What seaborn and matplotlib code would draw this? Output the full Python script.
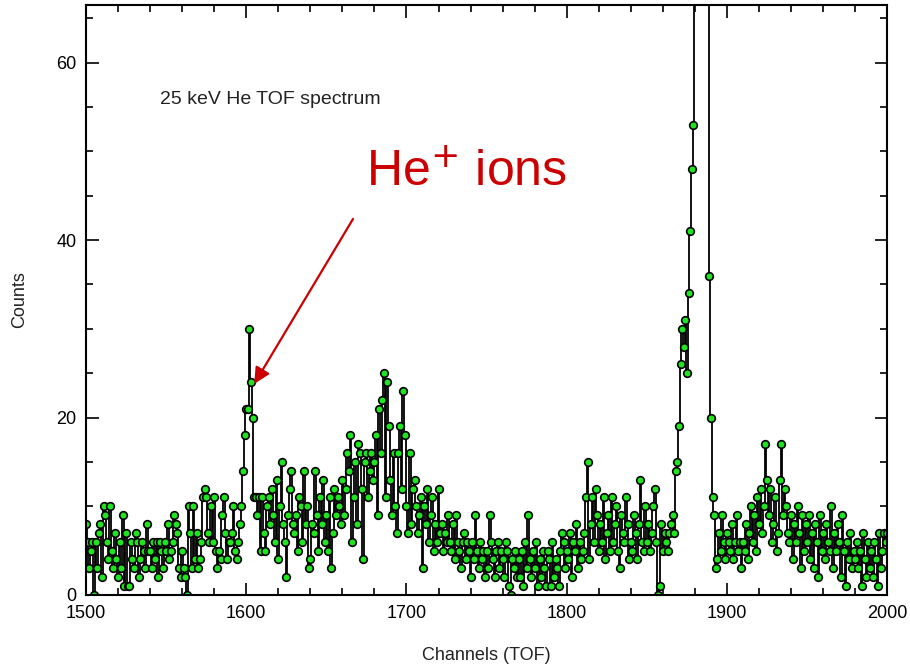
import numpy as np
import pandas as pd
import matplotlib
matplotlib.use("Agg")
import matplotlib.pyplot as plt
from matplotlib.ticker import MultipleLocator
import seaborn as sns

# TOF channel counts, channels 1500..2000 (one value per channel)
counts = [
    8, 6, 3, 5, 6, 0, 6, 3, 7, 8,
    2, 10, 9, 6, 4, 10, 5, 3, 7, 4,
    2, 6, 3, 9, 1, 7, 1, 1, 6, 4,
    3, 7, 6, 2, 4, 6, 5, 3, 8, 5,
    5, 3, 6, 4, 6, 2, 6, 5, 3, 6,
    5, 8, 4, 5, 6, 9, 8, 7, 3, 2,
    5, 3, 2, 0, 10, 7, 3, 10, 4, 7,
    3, 4, 6, 11, 12, 11, 7, 6, 10, 6,
    11, 5, 3, 5, 4, 9, 11, 7, 4, 6,
    6, 7, 10, 5, 4, 6, 8, 10, 14, 18,
    21, 21, 30, 24, 20, 11, 11, 9, 11, 5,
    11, 7, 5, 10, 11, 8, 12, 9, 6, 13,
    4, 10, 15, 8, 6, 2, 9, 12, 14, 8,
    7, 9, 5, 11, 10, 6, 14, 8, 10, 3,
    4, 8, 7, 14, 9, 5, 11, 8, 13, 6,
    9, 5, 11, 3, 7, 12, 9, 11, 10, 8,
    13, 9, 12, 16, 14, 18, 6, 11, 15, 8,
    17, 16, 12, 4, 15, 16, 11, 14, 16, 13,
    15, 18, 9, 21, 16, 22, 25, 11, 24, 19,
    13, 9, 16, 10, 7, 16, 19, 12, 23, 18,
    10, 7, 16, 8, 12, 13, 10, 7, 9, 11,
    3, 10, 8, 12, 6, 9, 11, 5, 8, 6,
    12, 7, 8, 5, 7, 6, 9, 6, 5, 8,
    4, 9, 6, 5, 3, 6, 7, 4, 6, 5,
    2, 6, 4, 9, 5, 3, 6, 4, 5, 2,
    5, 3, 9, 6, 4, 2, 5, 6, 3, 5,
    4, 2, 6, 5, 1, 0, 4, 3, 5, 2,
    4, 2, 5, 1, 6, 3, 9, 4, 2, 5,
    3, 6, 1, 4, 2, 5, 3, 1, 5, 4,
    1, 6, 2, 4, 3, 1, 5, 7, 6, 3,
    5, 4, 7, 2, 6, 5, 8, 3, 6, 4,
    5, 7, 11, 15, 4, 8, 11, 6, 12, 9,
    5, 8, 6, 11, 4, 7, 9, 5, 11, 6,
    8, 10, 5, 3, 9, 7, 6, 11, 8, 4,
    6, 5, 9, 7, 4, 8, 13, 6, 5, 10,
    6, 8, 5, 7, 10, 12, 6, 0, 1, 8,
    5, 7, 6, 5, 7, 8, 9, 7, 14, 15,
    19, 26, 30, 28, 31, 25, 34, 41, 48, 53,
    95, 150, 190, 210, 200, 170, 130, 90, 70, 36,
    20, 11, 9, 3, 4, 7, 5, 9, 6, 4,
    7, 6, 5, 8, 4, 6, 9, 5, 6, 3,
    6, 5, 8, 4, 7, 10, 6, 9, 5, 11,
    8, 12, 7, 10, 17, 13, 9, 12, 6, 8,
    11, 5, 7, 13, 17, 9, 12, 10, 7, 6,
    9, 4, 8, 6, 10, 7, 3, 9, 5, 8,
    6, 9, 4, 7, 3, 8, 6, 2, 9, 5,
    7, 4, 8, 6, 5, 10, 3, 7, 5, 8,
    6, 2, 9, 5, 1, 6, 4, 7, 3, 5,
    4, 6, 3, 5, 1, 7, 4, 2, 6, 3,
    5, 2, 6, 4, 1, 7, 3, 5, 7, 6,
    7,
]
channels = list(range(1500, 1500 + len(counts)))

x_ticks = [1500, 1600, 1700, 1800, 1900, 2000]
y_ticks = [0, 20, 40, 60]

df = pd.DataFrame({"channel": channels, "counts": counts})

sns.set_style("ticks")
plt.rcParams["font.family"] = ["Liberation Sans", "DejaVu Sans"]

fig = plt.figure(figsize=(9.10, 6.67), dpi=100)
ax = fig.add_axes([0.0945, 0.108, 0.8805, 0.8845])

sns.lineplot(data=df, x="channel", y="counts", ax=ax, color="black",
             linewidth=1.3, drawstyle="steps-mid", marker="o",
             markersize=5.5, markerfacecolor="#1ee61e", markeredgecolor="black",
             markeredgewidth=1.2, errorbar=None, sort=True)

ax.set_xlim(1500, 2000)
ax.set_ylim(0, 66.5)
ax.set_xticks(x_ticks)
ax.set_yticks(y_ticks)
ax.xaxis.set_minor_locator(MultipleLocator(20))
ax.yaxis.set_minor_locator(MultipleLocator(5))
ax.tick_params(which="both", direction="in", top=True, right=True,
               width=1.2, colors="black", labelsize=13, pad=7)
ax.tick_params(which="major", length=9)
ax.tick_params(which="minor", length=5)
for s in ax.spines.values():
    s.set_linewidth(1.5)
    s.set_color("black")

ax.set_xlabel("Channels (TOF)", fontsize=13, labelpad=18, color="#222222")
ax.set_ylabel("Counts", fontsize=13, labelpad=20, color="#222222")

ax.text(1546, 55.8, "25 keV He TOF spectrum", fontsize=14,
        va="center", ha="left", color="#222222")
ax.annotate("He$^{+}$ ions", xy=(1605, 23.8), xytext=(1675, 47.5),
            fontsize=36, color="#cc0000", ha="left", va="center",
            arrowprops=dict(arrowstyle="-|>", color="#cc0000", lw=1.6,
                            mutation_scale=24, shrinkA=16, shrinkB=0,
                            relpos=(0.0, 0.0)))

fig.savefig("out.png", dpi=100)
